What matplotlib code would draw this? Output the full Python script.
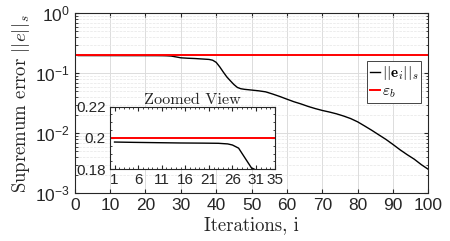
import matplotlib.pyplot as plt
import numpy as np

plt.rcParams['font.family'] = ['Liberation Sans', 'DejaVu Sans']
plt.rcParams['mathtext.fontset'] = 'cm'

# data
iters = [1, 5, 10, 15, 20, 23, 25, 26, 27.3, 28.7, 30, 32, 34, 36, 38, 39, 40,
         41, 42, 43, 44, 45, 46, 47, 48, 50, 52, 54, 56, 58, 60, 62, 64, 66,
         68, 70, 72, 74, 76, 78, 80, 82, 84, 86, 88, 90, 92, 94, 96, 98, 100]
err = [0.1974, 0.1972, 0.197, 0.1968, 0.1967, 0.1966, 0.1962, 0.1955, 0.1935,
       0.187, 0.181, 0.178, 0.176, 0.173, 0.17, 0.165, 0.152, 0.128, 0.105,
       0.087, 0.075, 0.065, 0.058, 0.0552, 0.054, 0.0525, 0.051, 0.049, 0.045,
       0.041, 0.037, 0.0335, 0.0308, 0.028, 0.0258, 0.024, 0.0226, 0.0211,
       0.0194, 0.0176, 0.0155, 0.0132, 0.0112, 0.0094, 0.0079, 0.0065, 0.0053,
       0.0044, 0.0037, 0.003, 0.0025]
eps_b = 0.2

xticks = [0, 10, 20, 30, 40, 50, 60, 70, 80, 90, 100]
inset_xticks = [1, 6, 11, 16, 21, 26, 31, 35]
inset_yticks = [0.18, 0.2, 0.22]

serif = {'family': 'cmr10'}
dark = '#262626'

fig = plt.figure(figsize=(4.5, 2.41), dpi=100)
ax = fig.add_axes([0.166, 0.198, 0.786, 0.747])

ax.semilogy(iters, err, color='k', lw=1.0, label=r'$||\mathbf{e}_i||_s$')
ax.axhline(eps_b, color='#ff0000', lw=1.4, label=r'$\varepsilon_b$')

ax.set_xlim(0, 100)
ax.set_ylim(1e-3, 1)
ax.set_xticks(xticks)
ax.tick_params(which='both', direction='in', top=True, right=True,
               labelsize=12.5, colors=dark)
ax.tick_params(which='major', length=3)
ax.tick_params(which='minor', length=1.8)
ax.grid(True, which='major', color='#dcdcdc', lw=0.7)
ax.grid(True, which='minor', axis='y', color='#e6e6e6', lw=0.5, ls='--')
for s in ax.spines.values():
    s.set_linewidth(0.8)
    s.set_color(dark)

ax.set_xlabel('Iterations, i', fontdict=serif, fontsize=13.5, labelpad=2, color=dark)
ax.set_ylabel(r'Supremum error $||e||_s$', fontdict=serif, fontsize=13.5,
              labelpad=2, color=dark)

leg = ax.legend(loc='upper right', bbox_to_anchor=(0.98, 0.735), fontsize=11,
                handlelength=0.6, handletextpad=0.15, borderpad=0.2,
                labelspacing=0.15, fancybox=False, framealpha=1,
                edgecolor='#444444', borderaxespad=0)
leg.get_frame().set_linewidth(0.7)

# inset
axi = fig.add_axes([0.244, 0.2975, 0.367, 0.26])
axi.plot(iters, err, color='k', lw=1.0)
axi.axhline(eps_b, color='#ff0000', lw=1.4)
axi.set_xlim(0, 35)
axi.set_ylim(0.18, 0.22)
axi.set_xticks(inset_xticks)
axi.set_yticks(inset_yticks)
axi.set_yticklabels(['0.18', '0.2', '0.22'])
axi.minorticks_on()
axi.tick_params(which='both', direction='in', top=True, right=True,
                labelsize=11, pad=3, colors=dark)
axi.tick_params(which='major', length=3)
axi.tick_params(which='minor', length=1.5)
for s in axi.spines.values():
    s.set_linewidth(0.8)
    s.set_color(dark)
axi.set_title('Zoomed View', fontdict=serif, fontsize=11.7, pad=2, color=dark)

fig.savefig('out.png', dpi=100)
